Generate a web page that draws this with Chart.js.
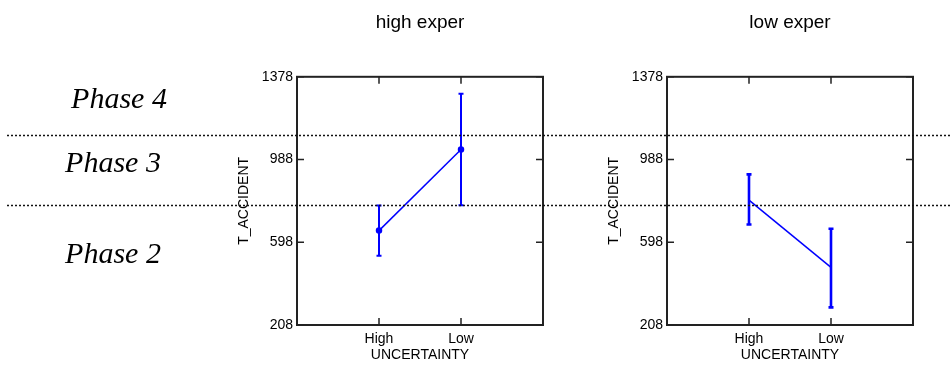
<!DOCTYPE html>
<html>
<head>
<meta charset="utf-8">
<script src="https://cdn.jsdelivr.net/npm/chart.js@4.4.0/dist/chart.umd.min.js"></script>
<style>
  body { margin: 0; background: #fff; }
  #wrap { position: relative; width: 952px; height: 366px; overflow: hidden; }
  canvas { position: absolute; top: 0; }
  .phase {
    position: absolute; width: 200px; text-align: center;
    font-family: 'Liberation Serif', 'Times New Roman', serif;
    font-style: italic; font-size: 30px; line-height: 30px; color: #000;
  }
</style>
</head>
<body>
<div id="wrap">
  <canvas id="left" width="560" height="366" style="left:0"></canvas>
  <canvas id="right" width="392" height="366" style="left:560px"></canvas>
  <div class="phase" style="left:19px; top:83px">Phase 4</div>
  <div class="phase" style="left:13px; top:147px">Phase 3</div>
  <div class="phase" style="left:13px; top:238px">Phase 2</div>
</div>
<script>
const uncertainty = ['High', 'Low'];
const yTicks = [208, 598, 988, 1378];
const phaseBounds = [772, 1106];

const highExperMean = [653, 1035];
const highExperLow = [535, 772];
const highExperHigh = [771, 1298];

const lowExperMean = [797, 480];
const lowExperLow = [682, 291];
const lowExperHigh = [918, 662];

Chart.defaults.font.family = "'Liberation Sans', Arial, sans-serif";
Chart.defaults.color = '#000';

// error bars, frame, inward ticks and the phase lines
const panelFrame = {
  id: 'panelFrame',
  afterDatasetsDraw(chart, args, opts) {
    const { ctx, chartArea: a, scales: { x, y } } = chart;
    const ds = chart.data.datasets[0];
    ctx.save();

    ctx.strokeStyle = ds.borderColor;
    ctx.lineWidth = opts.errWidth;
    ds.errLow.forEach((lo, i) => {
      const px = x.getPixelForValue(i + 1);
      const yl = y.getPixelForValue(lo);
      const yh = y.getPixelForValue(ds.errHigh[i]);
      ctx.beginPath();
      ctx.moveTo(px, yl); ctx.lineTo(px, yh);
      ctx.moveTo(px - 2.5, yl); ctx.lineTo(px + 2.5, yl);
      ctx.moveTo(px - 2.5, yh); ctx.lineTo(px + 2.5, yh);
      ctx.stroke();
    });

    ctx.strokeStyle = '#222';
    ctx.lineWidth = 2;
    ctx.strokeRect(a.left, a.top, a.right - a.left, a.bottom - a.top);

    ctx.lineWidth = 1.5;
    ctx.beginPath();
    x.ticks.forEach(t => {
      const px = x.getPixelForValue(t.value);
      ctx.moveTo(px, a.bottom); ctx.lineTo(px, a.bottom - 7);
      ctx.moveTo(px, a.top); ctx.lineTo(px, a.top + 7);
    });
    y.ticks.forEach(t => {
      const py = y.getPixelForValue(t.value);
      ctx.moveTo(a.left, py); ctx.lineTo(a.left + 7, py);
      ctx.moveTo(a.right, py); ctx.lineTo(a.right - 7, py);
    });
    ctx.stroke();

    ctx.setLineDash([2, 2]);
    ctx.strokeStyle = '#111';
    ctx.lineWidth = 1.5;
    ctx.beginPath();
    phaseBounds.forEach(v => {
      const py = Math.round(y.getPixelForValue(v)) + 0.5;
      ctx.moveTo(opts.lineStart, py);
      ctx.lineTo(chart.width, py);
    });
    ctx.stroke();
    ctx.restore();
  }
};

function panel(id, title, mean, lo, hi, padLeft, padRight, pointRadius, errWidth, lineStart) {
  new Chart(document.getElementById(id), {
    type: 'line',
    data: {
      datasets: [{
        data: mean.map((v, i) => ({ x: i + 1, y: v })),
        errLow: lo,
        errHigh: hi,
        borderColor: '#0000ff',
        backgroundColor: '#0000ff',
        borderWidth: 1.5,
        pointRadius: pointRadius,
        tension: 0
      }]
    },
    options: {
      responsive: false,
      animation: false,
      layout: { padding: { left: padLeft, right: padRight, top: 0, bottom: 0 } },
      plugins: {
        legend: { display: false },
        tooltip: { enabled: false },
        title: {
          display: true,
          text: title,
          fullSize: false,
          color: '#000',
          font: { size: 19, weight: 'normal' },
          padding: { top: 11, bottom: 43 }
        },
        panelFrame: { errWidth: errWidth, lineStart: lineStart }
      },
      scales: {
        x: {
          type: 'linear',
          min: 0,
          max: 3,
          afterBuildTicks: s => { s.ticks = uncertainty.map((c, i) => ({ value: i + 1 })); },
          afterFit: s => { s.height = 41; },
          grid: { display: false, drawTicks: false },
          border: { display: false },
          ticks: {
            padding: 6,
            font: { size: 14 },
            callback: v => uncertainty[v - 1]
          },
          title: { display: true, text: 'UNCERTAINTY', font: { size: 14 }, padding: { top: 0, bottom: 2 } }
        },
        y: {
          min: yTicks[0],
          max: yTicks[yTicks.length - 1],
          afterBuildTicks: s => { s.ticks = yTicks.map(v => ({ value: v })); },
          afterFit: s => { s.width = 61.4; },
          grid: { display: false, drawTicks: false },
          border: { display: false },
          ticks: { padding: 4, font: { size: 14 }, callback: v => String(v) },
          title: { display: true, text: 'T_ACCIDENT', font: { size: 14 }, padding: 0 }
        }
      }
    },
    plugins: [panelFrame]
  });
}

panel('left', 'high exper', highExperMean, highExperLow, highExperHigh, 235.6, 17, 2.5, 2, 7);
panel('right', 'low exper', lowExperMean, lowExperLow, lowExperHigh, 45.6, 39, 0, 2.6, 0);
</script>
</body>
</html>
